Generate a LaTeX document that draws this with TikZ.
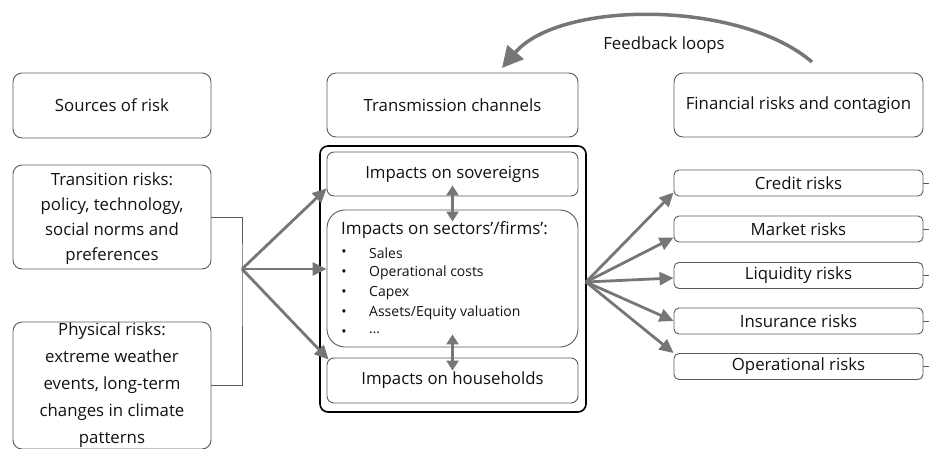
\documentclass[tikz,border=0pt]{standalone}
\usepackage{fontspec}
\setmainfont{Open Sans}
\usetikzlibrary{arrows.meta,positioning,calc}
\definecolor{boxline}{HTML}{5A5A5A}
\definecolor{arrowgray}{HTML}{767676}
\definecolor{txt}{HTML}{111111}

\begin{document}
\begin{tikzpicture}[x=1pt,y=-1pt,
    box/.style={draw=boxline,line width=0.9pt,rounded corners=9pt,text=txt,align=center,inner sep=0pt,font=\fontsize{16.8}{25}\selectfont},
    riskbox/.style={box,rounded corners=5pt,minimum width=249pt,minimum height=26pt},
    listtext/.style={text=txt,inner sep=0pt,font=\fontsize{14}{17}\selectfont},
    flow/.style={draw=arrowgray,line width=2.8pt,-{Triangle[length=14pt,width=13pt]}},
    link/.style={draw=arrowgray,line width=2.8pt,{Triangle[length=10pt,width=12pt]}-{Triangle[length=10pt,width=12pt]}}]
    \useasboundingbox (0,0) rectangle (929,448);

    \node[box,minimum width=198pt,minimum height=65pt] (src) at (112,105.5) {Sources of risk};
    \node[box,minimum width=251pt,minimum height=64pt] (trans) at (452.5,105) {Transmission channels};
    \node[box,minimum width=249pt,minimum height=64pt] (fin) at (798.5,105) {Financial risks and contagion};

    \node[box,minimum width=198pt,minimum height=104pt,text depth=-2pt] (trn) at (112,217) {Transition risks:\\policy, technology,\\social norms and\\preferences};
    \node[box,minimum width=198pt,minimum height=127pt,font=\fontsize{16.8}{27}\selectfont] (phy) at (112,385.5) {Physical risks:\\extreme weather\\events, long-term\\changes in climate\\patterns};

    % transmission channels
    \node[draw=black,line width=1.6pt,rounded corners=8pt,minimum width=266pt,minimum height=266pt] (chan) at (453,279) {};
    \node[box,rounded corners=7pt,minimum width=251pt,minimum height=44pt] (sov) at (452.5,174) {Impacts on sovereigns};
    \node[box,rounded corners=18pt,minimum width=251pt,minimum height=137pt] (sec) at (452.5,278.5) {};
    \node[box,rounded corners=7pt,minimum width=251pt,minimum height=45pt] (hh) at (452.5,380.5) {Impacts on households};
    \node[listtext,anchor=west,font=\fontsize{17}{20}\selectfont] (sectitle) at (341,230) {Impacts on sectors’/firms’:};
    \foreach \lbl [count=\i] in {Sales,Operational costs,Capex,Assets/Equity valuation,…}{
        \node[listtext] (bul\i) at (344,233+20*\i) {•};
        \node[listtext,anchor=west] (it\i) at (369,233+20*\i) {\lbl};
    }
    \draw[link] ([yshift=11pt]sov.south) -- ([yshift=-12pt]sec.north);
    \draw[link] ([yshift=13pt]sec.south) -- ([yshift=-13pt]hh.north);

    % financial risks
    \foreach \nm/\lbl/\yy in {crd/Credit risks/183,mkt/Market risks/229,liq/Liquidity risks/275.5,ins/Insurance risks/321,ops/Operational risks/366.5}{
        \node[riskbox] (\nm) at (798.5,\yy) {\lbl};
        \draw[boxline,line width=0.9pt] (\nm.east) -- ++(6,0);
    }

    \coordinate (split) at (242,269);
    \coordinate (fan) at (586,282);
    \draw[boxline,line width=0.9pt] (trn.east) -| (split) |- (phy.east);
    \draw[flow] (split) -- ([yshift=8pt]sov.south west);
    \draw[flow] (split) -- (split -| sec.west);
    \draw[flow] (split) -- ([xshift=2pt,yshift=-2pt]hh.north west);

    \draw[flow] (fan) -- ([yshift=4pt]crd.south west);
    \draw[flow] (fan) -- ([yshift=5pt]mkt.south west);
    \draw[flow] (fan) -- ([yshift=-2.5pt]liq.west);
    \draw[flow] (fan) -- (ins.west);
    \draw[flow] (fan) -- (ops.north west);

    % feedback
    \coordinate (fbs) at (812,62);
    \coordinate (fbe) at (502,68);
    \draw[draw=arrowgray,line width=3.5pt,-{Triangle[length=21pt,width=21pt]}] (fbs) .. controls (740,0) and (560,0) .. (fbe);
    \node[text=txt,font=\fontsize{16.8}{20}\selectfont] (fbl) at (664,45) {Feedback loops};
\end{tikzpicture}
\end{document}
